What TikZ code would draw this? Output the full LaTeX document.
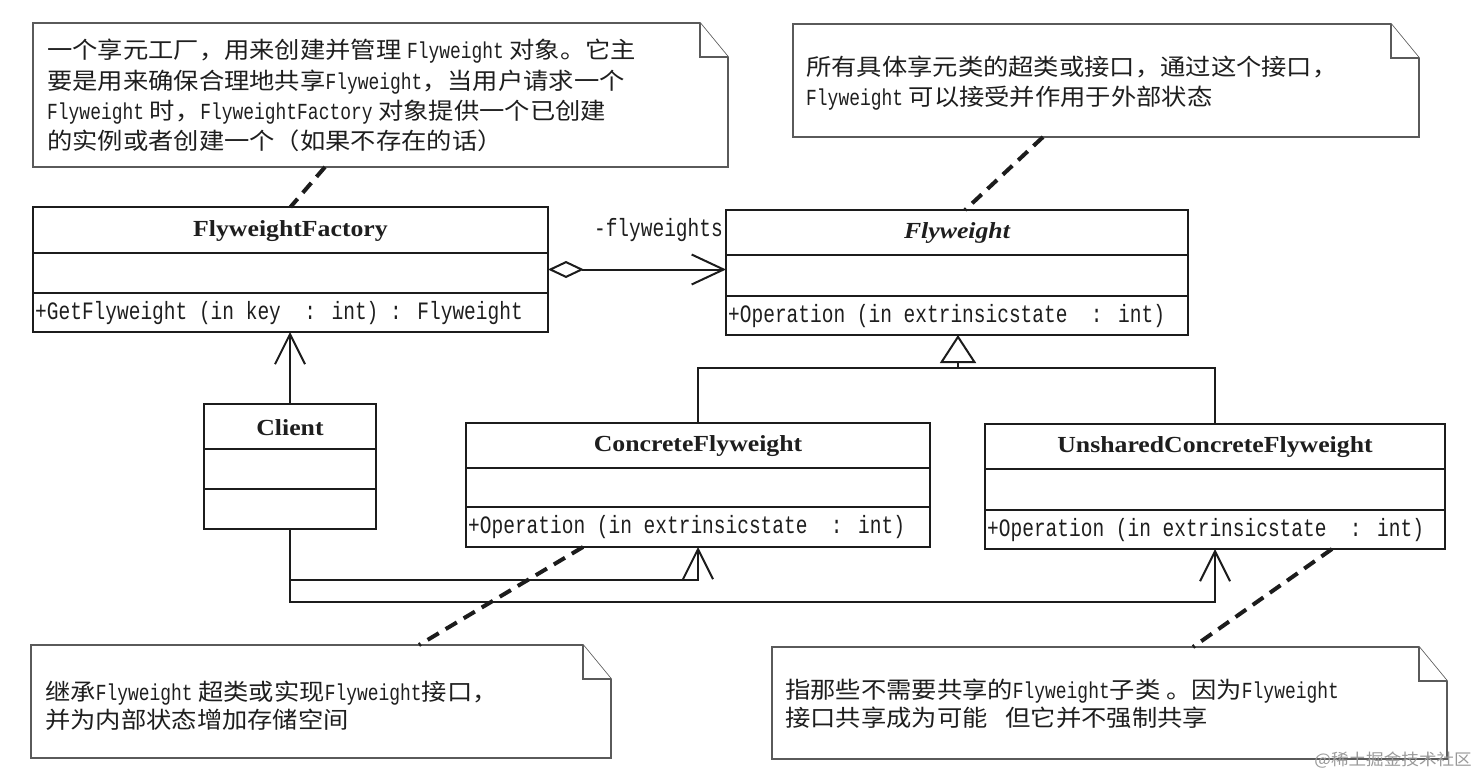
\documentclass[tikz,border=0pt]{standalone}
\usepackage{fontspec}
\setmainfont{Liberation Serif}
\newfontfamily\cjk[FakeStretch=1.1]{Noto Sans CJK SC}
\newfontfamily\monof[FakeStretch=0.78]{Liberation Mono}
\newfontface\ttlb[FakeStretch=1.12]{Liberation Serif Bold}
\newfontface\ttlbi[FakeStretch=1.12]{Liberation Serif Bold Italic}
\usetikzlibrary{arrows.meta,calc}
\definecolor{lc}{HTML}{1C1C1C}
\definecolor{nc}{HTML}{5A5A5A}
\definecolor{tc}{HTML}{1E1E1E}
\newcommand\ml[1]{{\monof #1}}
\newcommand\umlclass[8]{%
  \node[box, minimum width=#4pt, minimum height=#5pt, anchor=north west] (#1) at (#2,#3) {};
  \draw[sep] ($(#1.north west)+(0,#6)$) -- ($(#1.north east)+(0,#6)$);
  \draw[sep] ($(#1.north west)+(0,#7)$) -- ($(#1.north east)+(0,#7)$);
  \node[ttl] (#1-t) at ($(#1.north)+(0,#6/2+1)$) {#8};
}
\newcommand\mknote[5]{%
  \draw[notel] (#2,#3) -- (#4-28,#3) -- (#4,#3+34) -- (#4,#5) -- (#2,#5) -- cycle;
  \draw[notel] (#4-28,#3) -- (#4-28,#3+34) -- (#4,#3+34);
}
\tikzset{
  box/.style={draw=lc, line width=2pt, inner sep=0pt, outer sep=0pt, fill=white},
  sep/.style={draw=lc, line width=2pt},
  ttl/.style={font=\ttlb\fontsize{23}{26}\selectfont, inner sep=0pt, text=tc},
  op/.style={font=\monof\fontsize{25}{28}\selectfont, inner sep=0pt, anchor=west, text=tc},
  conn/.style={draw=lc, line width=2pt},
  oarrow/.style={conn, -{Straight Barb[length=30pt, width=30pt]}},
  gen/.style={conn, -{Triangle[open, length=28pt, width=36pt]}},
  agg/.style={conn, {Diamond[open, length=36pt, width=17pt]}-{Straight Barb[length=32pt, width=30pt]}},
  notel/.style={draw=nc, line width=1.6pt, fill=white, line join=miter},
  ntxt/.style={font=\cjk\fontsize{23}{30}\selectfont, anchor=base west, inner sep=0pt, text=tc},
  anchorline/.style={draw=lc, line width=4pt, dash pattern=on 13pt off 8pt},
}
\begin{document}
\begin{tikzpicture}[x=1pt,y=-1pt]
\useasboundingbox (0,0) rectangle (1480,776);
\fill[white] (0,0) rectangle (1480,776);

% notes
\mknote{n1}{33}{23}{728}{167}
\mknote{n2}{793}{24}{1419}{137}
\mknote{n3}{31}{645}{611}{758}
\mknote{n4}{772}{647}{1447}{759}

\node[ntxt] (n1a) at (47,59) {一个享元工厂，用来创建并管理 \ml{Flyweight} 对象。它主};
\node[ntxt] (n1b) at (47,89) {要是用来确保合理地共享\ml{Flyweight}，当用户请求一个};
\node[ntxt] (n1c) at (47,119) {\ml{Flyweight} 时，\ml{FlyweightFactory} 对象提供一个已创建};
\node[ntxt] (n1d) at (47,149) {的实例或者创建一个（如果不存在的话）};

\node[ntxt] (n2a) at (806,76) {所有具体享元类的超类或接口，通过这个接口，};
\node[ntxt] (n2b) at (806,105) {\ml{Flyweight} 可以接受并作用于外部状态};

\node[ntxt] (n3a) at (45,700) {继承\ml{Flyweight} 超类或实现\ml{Flyweight}接口，};
\node[ntxt] (n3b) at (45,728) {并为内部状态增加存储空间};

\node[ntxt] (n4a) at (785,698) {指那些不需要共享的\ml{Flyweight}子类 。因为\ml{Flyweight}};
\node[ntxt] (n4b) at (785,726) {接口共享成为可能\hspace{18pt}但它并不强制共享};

% classes
\umlclass{fac}{33}{207}{515}{125}{46}{86}{FlyweightFactory}
\umlclass{fw}{726}{210}{462}{125}{45}{86}{{\ttlbi Flyweight}}
\umlclass{cl}{204}{404}{172}{125}{45}{85}{Client}
\umlclass{cw}{466}{423}{464}{124}{45}{84}{ConcreteFlyweight}
\umlclass{uw}{985}{424}{460}{125}{45}{86}{UnsharedConcreteFlyweight}

\node[op] (fac-o) at (35,313) {+GetFlyweight (in key\ \ : int) : Flyweight};
\node[op] (fw-o) at (728,316) {+Operation (in extrinsicstate\ \ : int)};
\node[op] (cw-o) at (468,527) {+Operation (in extrinsicstate\ \ : int)};
\node[op] (uw-o) at (987,530) {+Operation (in extrinsicstate\ \ : int)};

% dashed anchors
\coordinate (n1p) at (325,167);
\coordinate (n2p) at (1043,137);
\coordinate (n3p) at (419,645);
\coordinate (n4p) at (1193,647);
\coordinate (fwp) at ($(fw.north)+(8,0)$);
\coordinate (cwp) at ($(cw.south west)+(117,0)$);
\coordinate (uwp) at ($(uw.south west)+(347,0)$);
\draw[anchorline] (n1p) -- (fac.north);
\draw[anchorline] (n2p) -- (fwp);
\draw[anchorline] (cwp) -- (n3p);
\draw[anchorline] (uwp) -- (n4p);

% connectors
\draw[agg] (fac.east) -- (fac.east -| fw.west);
\node[op, anchor=east] (lbl) at (723,230) {-flyweights};
\draw[oarrow] (cl.north) -- (cl.north |- fac.south);
\coordinate (gj) at ($(fw.south)+(1,33)$);
\draw[gen] (cw.north) |- (gj) -- (gj |- fw.south);
\draw[conn] (uw.north) |- (gj);
\draw[oarrow] (cl.south) -- ++(0,51) -| (cw.south);
\draw[oarrow] (cl.south) -- ++(0,73) -| (uw.south);

% watermark
\node[font=\cjk\fontsize{16}{18}\selectfont, text=black!40, anchor=east, inner sep=0pt] (wm) at (1472,760) {@稀土掘金技术社区};
\end{tikzpicture}
\end{document}
